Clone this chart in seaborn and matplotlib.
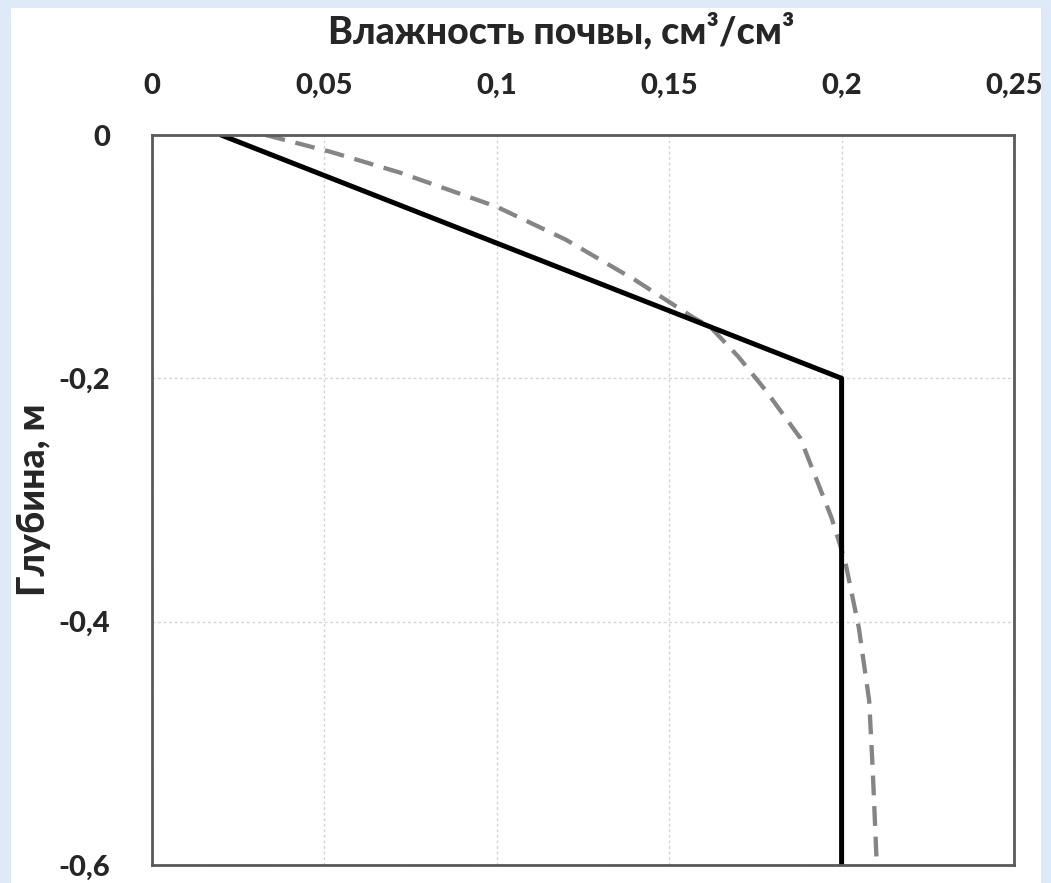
import numpy as np
import pandas as pd
import matplotlib
matplotlib.use("Agg")
import matplotlib.pyplot as plt
from matplotlib.patches import Rectangle
import seaborn as sns

# measured profile (solid) and modelled profile (dashed)
measured_moisture = [0.02, 0.2, 0.2]
measured_depth = [0.0, -0.2, -0.6]

model_moisture = [0.033, 0.052, 0.072, 0.080, 0.100, 0.120, 0.140, 0.157, 0.162,
                  0.170, 0.178, 0.188, 0.197, 0.201, 0.205, 0.208, 0.209, 0.2102]
model_depth = [0.0, -0.014, -0.031, -0.039, -0.059, -0.086, -0.119, -0.150, -0.158,
               -0.182, -0.210, -0.249, -0.314, -0.350, -0.405, -0.465, -0.520, -0.600]

x_ticks = [0, 0.05, 0.1, 0.15, 0.2, 0.25]
x_labels = ['0', '0,05', '0,1', '0,15', '0,2', '0,25']
y_ticks = [0, -0.2, -0.4, -0.6]
y_labels = ['0', '-0,2', '-0,4', '-0,6']

sns.set_style('white')
plt.rcParams['font.family'] = ['Lato', 'DejaVu Sans']

fig = plt.figure(figsize=(10.51, 8.83), dpi=100, facecolor='#dde9f6')
fig.patches.append(Rectangle((11 / 1051, 0), (1041 - 11) / 1051, (883 - 8) / 883,
                             transform=fig.transFigure, facecolor='white',
                             edgecolor='none', zorder=-10))
ax = fig.add_axes([152 / 1051, 1 - 865 / 883, (1014 - 152) / 1051, (865 - 135) / 883])
ax.set_facecolor('white')

df_meas = pd.DataFrame({'x': measured_moisture, 'y': measured_depth})
df_mod = pd.DataFrame({'x': model_moisture, 'y': model_depth})

sns.lineplot(data=df_mod, x='x', y='y', sort=False, estimator=None, ax=ax,
             color='#858585', linewidth=3.1, linestyle=(0, (4.6, 2.5)))
sns.lineplot(data=df_meas, x='x', y='y', sort=False, estimator=None, ax=ax,
             color='black', linewidth=3.6)

ax.set_xlim(0, 0.25)
ax.set_ylim(-0.6, 0)
ax.xaxis.tick_top()
ax.xaxis.set_label_position('top')
ax.set_xticks(x_ticks)
ax.set_xticklabels(x_labels, fontsize=21, fontweight='black')
ax.set_yticks(y_ticks)
ax.set_yticklabels(y_labels, fontsize=21, fontweight='black')
ax.tick_params(axis='both', length=0)
ax.tick_params(axis='x', pad=26)
ax.tick_params(axis='y', pad=30)
ax.grid(True, color='#d4d4d4', linestyle=(0, (2, 2)), linewidth=1)

for s in ax.spines.values():
    s.set_color('#595959')
    s.set_linewidth(2)

ax.set_xlabel('Влажность почвы, см³/см³', fontsize=27, fontweight='black', labelpad=20)
ax.xaxis.set_label_coords(0.475, 1.125)
ax.set_ylabel('Глубина, м', fontsize=27, fontweight='black')
ax.yaxis.set_label_coords(-0.117, 0.5)

fig.savefig('out.png', dpi=100, facecolor=fig.get_facecolor())
